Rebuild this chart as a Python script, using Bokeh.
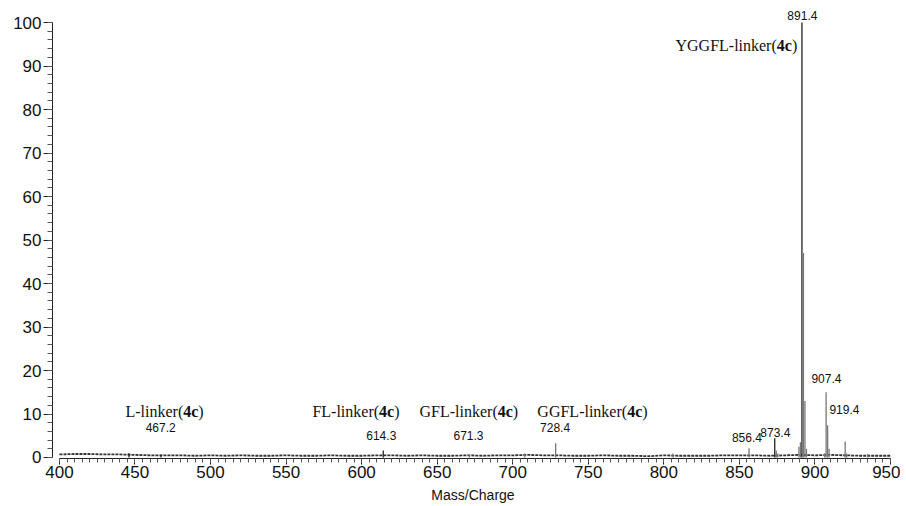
import numpy as np
from bokeh.plotting import figure
from bokeh.models import (ColumnDataSource, Label, Range1d, FixedTicker, LinearAxis)
from bokeh.core.properties import value
from bokeh.embed import file_html
from bokeh.resources import INLINE

# ---- data ----
peak_mz = [446.0, 467.2, 614.3, 671.3, 708.0, 728.4, 806.0, 856.4, 873.4, 874.4,
           875.4, 889.4, 890.4, 891.4, 892.4, 893.4, 894.4, 906.4, 907.4, 908.4,
           909.4, 920.0, 921.0, 935.0]
peak_int = [1.0, 0.7, 1.6, 0.7, 0.9, 3.3, 0.9, 2.1, 4.4, 1.6,
            0.9, 2.5, 3.5, 100.0, 47.0, 13.0, 2.0, 1.0, 15.0, 7.4,
            2.0, 3.7, 0.9, 0.8]
peak_dark = [1, 1, 1, 0, 0, 0, 0, 0, 1, 0,
             0, 0, 0, 1, 0, 0, 0, 0, 0, 0,
             0, 0, 0, 0]

base_mz = [400, 410, 420, 430, 440, 450, 460, 470, 480, 490, 500, 510, 520, 530,
           540, 550, 560, 570, 580, 590, 600, 610, 620, 630, 640, 650, 660, 670,
           680, 690, 700, 710, 720, 730, 740, 750, 760, 770, 780, 790, 800, 810,
           820, 830, 840, 850, 860, 870, 880, 890, 900, 910, 920, 930, 940, 950]
base_int = [0.7, 0.8, 0.8, 0.7, 0.7, 0.6, 0.5, 0.5, 0.5, 0.4, 0.5, 0.4, 0.5, 0.4,
            0.4, 0.5, 0.4, 0.4, 0.5, 0.4, 0.4, 0.5, 0.5, 0.4, 0.5, 0.4, 0.4, 0.5,
            0.4, 0.5, 0.5, 0.6, 0.5, 0.5, 0.4, 0.4, 0.5, 0.4, 0.4, 0.3, 0.5, 0.4,
            0.4, 0.4, 0.5, 0.5, 0.5, 0.4, 0.5, 0.6, 0.5, 0.6, 0.5, 0.4, 0.4, 0.4]

num_x = [467.0, 613.0, 670.7, 728.0, 855.0, 873.8, 891.7, 907.6, 919.5]
num_y = [5.8, 4.1, 4.1, 5.8, 3.5, 4.6, 100.5, 17.2, 10.0]
num_text = ["467.2", "614.3", "671.3", "728.4", "856.4", "873.4", "891.4", "907.4", "919.4"]

ann_prefix = ["L", "FL", "GFL", "GGFL", "YGGFL"]
ann_x = [443.7, 567.4, 638.3, 716.3, 807.7]
ann_y = [10.5, 10.5, 10.5, 10.5, 94.7]

x_ticks = [400, 450, 500, 550, 600, 650, 700, 750, 800, 850, 900, 950]
y_ticks = [0, 10, 20, 30, 40, 50, 60, 70, 80, 90, 100]

# ---- figure ----
p = figure(width=900, height=505, output_backend="svg", toolbar_location=None,
           x_range=Range1d(395.4, 952.0), y_range=Range1d(-0.23, 103.7),
           min_border_left=52, min_border_right=7, min_border_top=6,
           min_border_bottom=40,
           x_axis_location=None, y_axis_location=None)
p.grid.visible = False
p.outline_line_color = None
p.background_fill_color = "white"

xa = LinearAxis(bounds=(400, 950), ticker=FixedTicker(ticks=x_ticks,
                minor_ticks=list(np.arange(400, 951, 5))))
xa.axis_label = "Mass/Charge"
xa.axis_label_text_font = "Liberation Sans"
xa.axis_label_text_font_size = "14px"
xa.axis_label_text_font_style = "normal"
xa.axis_label_standoff = 6
xa.major_label_text_font = "Liberation Sans"
xa.major_label_text_font_size = "17px"
xa.major_label_standoff = 1
xa.major_tick_out = 6
xa.major_tick_in = 0
xa.minor_tick_out = 4
xa.minor_tick_in = 0
xa.axis_line_color = "#222222"
xa.major_tick_line_color = "#222222"
xa.minor_tick_line_color = "#555555"
xa.major_label_text_color = "#111111"
xa.axis_label_text_color = "#111111"
p.add_layout(xa, "below")

ya = LinearAxis(bounds=(0, 100), ticker=FixedTicker(ticks=y_ticks,
                minor_ticks=list(np.arange(0, 101, 2))))
ya.major_label_text_font = "Liberation Sans"
ya.major_label_text_font_size = "17px"
ya.major_label_standoff = 2
ya.major_tick_out = 9
ya.major_tick_in = 0
ya.minor_tick_out = 5
ya.minor_tick_in = 0
ya.axis_line_color = "#222222"
ya.major_tick_line_color = "#222222"
ya.minor_tick_line_color = "#555555"
ya.major_label_text_color = "#111111"
p.add_layout(ya, "left")

# baseline noise
p.line(base_mz, base_int, line_color="#333333", line_width=1.8, line_dash="3 1")

# peaks as sticks
src = ColumnDataSource(dict(
    x=peak_mz, y0=[0.0] * len(peak_mz), y1=peak_int,
    c=["#222222" if d else "#777777" for d in peak_dark]))
p.segment(x0="x", y0="y0", x1="x", y1="y1", line_color="c", line_width=1.3, source=src)

# numeric peak labels
nsrc = ColumnDataSource(dict(x=num_x, y=num_y, t=num_text))
p.text(x="x", y="y", text="t", source=nsrc, text_align="center",
       text_baseline="bottom", text_font=value("Liberation Sans"),
       text_font_size="12px", text_color="#111111")

# fragment annotations: prefix + "-linker(" + bold "4c" + ")"
reg_w = {"L": 611, "F": 556, "G": 722, "Y": 722, "-": 333, "l": 278, "i": 278,
         "n": 500, "k": 500, "e": 444, "r": 333, "(": 333, ")": 333}
bold_w = 944
fs = 16.0
for pre, ax, ay in zip(ann_prefix, ann_x, ann_y):
    s1 = pre + "-linker("
    w1 = sum(reg_w[c] for c in s1) / 1000.0 * fs
    w2 = bold_w / 1000.0 * fs
    p.add_layout(Label(x=ax, y=ay, text=s1, text_font="Liberation Serif",
                       text_font_size="16px", text_color="#111111",
                       text_baseline="alphabetic"))
    p.add_layout(Label(x=ax, y=ay, x_offset=w1, text="4c", text_font="Liberation Serif",
                       text_font_size="16px", text_font_style="bold", text_color="#111111",
                       text_baseline="alphabetic"))
    p.add_layout(Label(x=ax, y=ay, x_offset=w1 + w2, text=")", text_font="Liberation Serif",
                       text_font_size="16px", text_color="#111111",
                       text_baseline="alphabetic"))

open("out.html", "w").write(file_html(p, INLINE))
